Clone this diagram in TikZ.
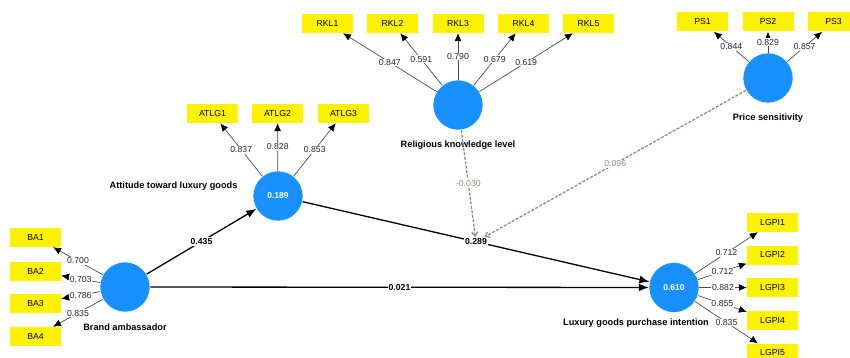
\documentclass[tikz,border=0pt]{standalone}
\usepackage{fontspec}
\setmainfont{Liberation Sans}
\usetikzlibrary{arrows.meta}
\definecolor{lvblue}{RGB}{24,144,255}
\definecolor{modgray}{RGB}{130,150,125}
\begin{document}
\begin{tikzpicture}[x=1pt,y=-1pt,
  lv/.style={circle,fill=lvblue,draw=white,line width=0.5pt,minimum size=50pt,inner sep=0pt,text=white,font=\bfseries\fontsize{8.5}{10}\selectfont},
  ind/.style={fill=yellow,minimum width=51pt,minimum height=19pt,inner sep=0pt,font=\fontsize{8.7}{10}\selectfont},
  lvname/.style={font=\bfseries\fontsize{9.2}{11}\selectfont},
  loadarrow/.style={-{Latex[length=8pt,width=7pt,color=black]},draw=black!70,line width=0.7pt},
  loadlab/.style={fill=white,inner sep=0.8pt,font=\fontsize{8.7}{10}\selectfont,text=black!85},
  strpath/.style={-{Latex[length=10pt,width=8pt]},line width=1.3pt},
  pathlab/.style={fill=white,inner sep=1pt,font=\bfseries\fontsize{8.7}{10}\selectfont},
  modarrow/.style={-{Straight Barb[length=4pt,width=6pt]},draw=modgray,line width=1.3pt,dash pattern=on 3pt off 1.5pt},
  modlab/.style={fill=white,inner sep=1pt,text=modgray,font=\fontsize{8.7}{10}\selectfont}
]
\useasboundingbox (0,0) rectangle (850,358);

% latent variables
\node[lv] (BA) at (125,287) {};
\node[lv] (ATLG) at (278,196) {0.189};
\node[lv] (RKL) at (458,105) {};
\node[lv] (PS) at (768,78) {};
\node[lv] (LGPI) at (674,287.5) {0.610};

% names
\node[lvname] at (125,327) {Brand ambassador};
\node[lvname,anchor=east] at (241,186) {Attitude toward luxury goods};
\node[lvname] at (458,145) {Religious knowledge level};
\node[lvname] at (768,118) {Price sensitivity};
\node[lvname] at (636,323) {Luxury goods purchase intention};

% indicators
\node[ind] (BA1) at (35.5,237.5) {BA1};
\node[ind] (BA2) at (35.5,271) {BA2};
\node[ind] (BA3) at (35.5,303.5) {BA3};
\node[ind] (BA4) at (35.5,336.5) {BA4};
\node[ind] (ATLG1) at (212.5,113.5) {ATLG1};
\node[ind] (ATLG2) at (277.5,113.5) {ATLG2};
\node[ind] (ATLG3) at (343.5,113.5) {ATLG3};
\node[ind] (RKL1) at (327.5,23.5) {RKL1};
\node[ind] (RKL2) at (392.5,23.5) {RKL2};
\node[ind] (RKL3) at (458,23.5) {RKL3};
\node[ind] (RKL4) at (523.5,23.5) {RKL4};
\node[ind] (RKL5) at (588.5,23.5) {RKL5};
\node[ind] (PS1) at (702.5,22) {PS1};
\node[ind] (PS2) at (768,22) {PS2};
\node[ind] (PS3) at (833.5,22) {PS3};
\node[ind] (LGPI1) at (772.5,222.5) {LGPI1};
\node[ind] (LGPI2) at (772.5,255) {LGPI2};
\node[ind] (LGPI3) at (772.5,287.5) {LGPI3};
\node[ind] (LGPI4) at (772.5,320.5) {LGPI4};
\node[ind] (LGPI5) at (772.5,353) {LGPI5};

% loadings
\draw[loadarrow] (BA) -- node[loadlab]{0.700} (BA1);
\draw[loadarrow] (BA) -- node[loadlab]{0.703} (BA2);
\draw[loadarrow] (BA) -- node[loadlab]{0.786} (BA3);
\draw[loadarrow] (BA) -- node[loadlab]{0.835} (BA4);
\draw[loadarrow] (ATLG) -- node[loadlab]{0.837} (ATLG1);
\draw[loadarrow] (ATLG) -- node[loadlab]{0.828} (ATLG2);
\draw[loadarrow] (ATLG) -- node[loadlab]{0.853} (ATLG3);
\draw[loadarrow] (RKL) -- node[loadlab]{0.847} (RKL1);
\draw[loadarrow] (RKL) -- node[loadlab]{0.591} (RKL2);
\draw[loadarrow] (RKL) -- node[loadlab]{0.790} (RKL3);
\draw[loadarrow] (RKL) -- node[loadlab]{0.679} (RKL4);
\draw[loadarrow] (RKL) -- node[loadlab]{0.619} (RKL5);
\draw[loadarrow] (PS) -- node[loadlab]{0.844} (PS1);
\draw[loadarrow] (PS) -- node[loadlab]{0.829} (PS2);
\draw[loadarrow] (PS) -- node[loadlab]{0.857} (PS3);
\draw[loadarrow] (LGPI) -- node[loadlab]{0.712} (LGPI1);
\draw[loadarrow] (LGPI) -- node[loadlab]{0.712} (LGPI2);
\draw[loadarrow] (LGPI) -- node[loadlab]{0.882} (LGPI3);
\draw[loadarrow] (LGPI) -- node[loadlab]{0.855} (LGPI4);
\draw[loadarrow] (LGPI) -- node[loadlab]{0.835} (LGPI5);

% structural paths
\draw[strpath] (BA) -- node[pathlab]{0.435} (ATLG);
\draw[strpath] (BA) -- node[pathlab]{0.021} (LGPI);
\draw[strpath] (ATLG) -- node[pathlab] (m289) {0.289} (LGPI);

% moderating effects
\draw[modarrow] (RKL) -- node[modlab]{-0.030} (m289);
\draw[modarrow] (PS) -- node[modlab]{0.096} (m289);
\end{tikzpicture}
\end{document}
